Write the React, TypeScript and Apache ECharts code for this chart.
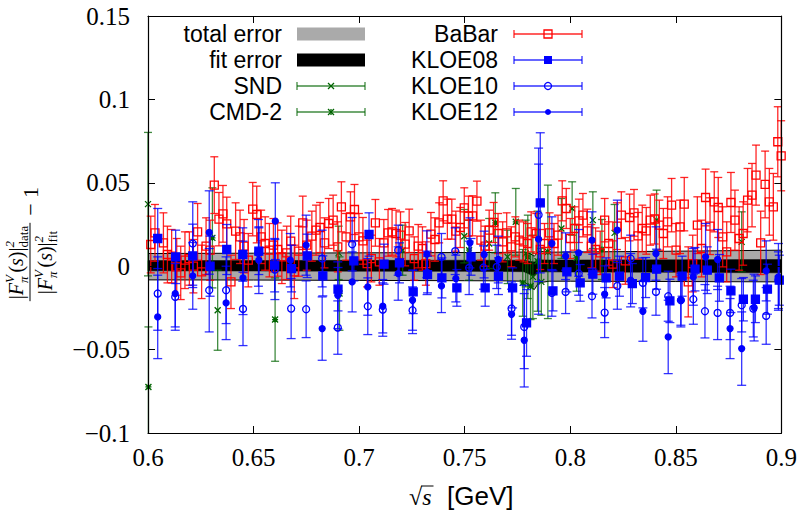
import React, { useEffect, useRef } from "react";
import * as echarts from "echarts";

// ---------- data: [sqrt(s) GeV, ratio-1, error] ----------
const BABAR: number[][] = [
  [0.6013,0.0130,0.017],[0.6033,0.0200,0.017],[0.6073,0.0140,0.018],[0.6092,0.0070,0.017],
  [0.6112,0.0060,0.016],[0.6136,-0.0004,0.017],[0.6155,-0.0040,0.016],[0.6175,0.0036,0.017],
  [0.6196,0.0046,0.016],[0.6215,0.0000,0.016],[0.6235,0.0206,0.017],[0.6254,-0.0034,0.016],
  [0.6275,0.0120,0.017],[0.6294,0.0096,0.018],[0.6314,0.0486,0.017],[0.6336,0.0282,0.016],
  [0.6355,0.0314,0.017],[0.6373,0.0254,0.016],[0.6393,-0.0094,0.016],[0.6415,0.0210,0.017],
  [0.6436,0.0176,0.016],[0.6455,0.0120,0.016],[0.6475,0.0036,0.016],[0.6496,0.0342,0.016],
  [0.6515,0.0310,0.017],[0.6536,0.0176,0.016],[0.6555,0.0136,0.016],[0.6575,0.0096,0.016],
  [0.6594,0.0126,0.016],[0.6614,0.0100,0.016],[0.6634,0.0056,0.016],[0.6657,0.0080,0.016],
  [0.6676,0.0150,0.015],[0.6693,-0.0034,0.016],[0.6714,0.0090,0.015],[0.6733,0.0260,0.016],
  [0.6752,0.0126,0.015],[0.6776,0.0180,0.015],[0.6796,0.0216,0.015],[0.6815,0.0232,0.015],
  [0.6836,0.0140,0.015],[0.6856,0.0256,0.015],[0.6877,0.0276,0.015],[0.6899,0.0116,0.015],
  [0.6916,0.0356,0.015],[0.6938,0.0176,0.014],[0.6959,0.0296,0.015],[0.6978,0.0340,0.015],
  [0.6999,0.0176,0.014],[0.7018,0.0152,0.014],[0.7038,0.0016,0.014],[0.7058,0.0046,0.014],
  [0.7077,0.0260,0.014],[0.7096,0.0026,0.014],[0.7117,0.0140,0.014],[0.7137,0.0200,0.014],
  [0.7156,0.0206,0.014],[0.7175,0.0196,0.014],[0.7196,0.0186,0.014],[0.7218,0.0132,0.013],
  [0.7237,0.0212,0.013],[0.7261,0.0046,0.013],[0.7280,0.0120,0.013],[0.7300,0.0106,0.013],
  [0.7316,0.0016,0.013],[0.7340,0.0192,0.013],[0.7359,0.0160,0.013],[0.7379,0.0260,0.012],
  [0.7398,0.0392,0.012],[0.7418,0.0282,0.012],[0.7439,0.0282,0.012],[0.7458,0.0210,0.012],
  [0.7479,0.0232,0.012],[0.7498,0.0350,0.012],[0.7518,0.0300,0.012],[0.7537,0.0302,0.012],
  [0.7558,0.0390,0.012],[0.7577,0.0156,0.012],[0.7597,0.0120,0.012],[0.7616,0.0216,0.012],
  [0.7637,0.0262,0.012],[0.7658,0.0196,0.012],[0.7680,0.0146,0.012],[0.7699,0.0200,0.012],
  [0.7721,0.0116,0.012],[0.7740,0.0176,0.012],[0.7758,0.0156,0.012],[0.7779,0.0146,0.012],
  [0.7798,0.0136,0.012],[0.7815,0.0206,0.012],[0.7839,0.0196,0.012],[0.7858,0.0100,0.012],
  [0.7878,0.0136,0.012],[0.7902,0.0200,0.012],[0.7923,0.0136,0.012],[0.7942,0.0186,0.012],
  [0.7962,0.0392,0.012],[0.7981,0.0346,0.012],[0.8000,0.0166,0.012],[0.8021,0.0226,0.013],
  [0.8041,0.0272,0.013],[0.8060,0.0306,0.013],[0.8081,0.0212,0.013],[0.8100,0.0120,0.013],
  [0.8120,0.0100,0.013],[0.8142,0.0080,0.013],[0.8163,0.0276,0.013],[0.8182,0.0136,0.013],
  [0.8202,0.0012,0.014],[0.8221,0.0240,0.014],[0.8242,0.0306,0.014],[0.8261,0.0032,0.014],
  [0.8281,0.0292,0.014],[0.8302,0.0320,0.014],[0.8321,0.0182,0.014],[0.8341,0.0226,0.014],
  [0.8360,0.0212,0.014],[0.8379,0.0276,0.015],[0.8400,0.0283,0.015],[0.8422,0.0246,0.015],
  [0.8441,0.0196,0.015],[0.8461,0.0266,0.015],[0.8480,0.0366,0.016],[0.8501,0.0096,0.016],
  [0.8520,0.0236,0.016],[0.8540,0.0372,0.016],[0.8559,-0.0094,0.021],[0.8580,0.0016,0.017],
  [0.8602,0.0246,0.017],[0.8622,0.0106,0.017],[0.8641,0.0412,0.017],[0.8662,0.0240,0.017],
  [0.8682,0.0386,0.018],[0.8701,0.0352,0.018],[0.8722,0.0176,0.018],[0.8741,0.0086,0.018],
  [0.8761,0.0382,0.018],[0.8780,0.0276,0.018],[0.8800,0.0166,0.019],[0.8819,0.0196,0.019],
  [0.8840,0.0396,0.019],[0.8861,0.0426,0.019],[0.8880,0.0546,0.018],[0.8902,0.0140,0.019],
  [0.8923,0.0490,0.020],[0.8943,0.0386,0.020],[0.8962,0.0356,0.020],[0.8983,0.0746,0.021],
  [0.8999,0.0662,0.021],
];

const KLOE08: number[][] = [
  [0.6046,0.0166,0.018],[0.6131,0.0056,0.016],[0.6212,0.0062,0.019],[0.6294,0.0000,0.018],
  [0.6373,0.0100,0.015],[0.6449,0.0070,0.016],[0.6525,0.0090,0.014],[0.6600,0.0006,0.016],
  [0.6680,-0.0014,0.014],[0.6754,0.0062,0.013],[0.6828,-0.0058,0.012],[0.6900,-0.0138,0.013],
  [0.6975,0.0032,0.012],[0.7047,0.0190,0.013],[0.7118,0.0012,0.012],[0.7191,0.0020,0.012],
  [0.7256,-0.0154,0.013],[0.7324,-0.0050,0.011],[0.7392,-0.0070,0.012],[0.7463,-0.0130,0.011],
  [0.7530,0.0056,0.011],[0.7597,-0.0130,0.011],[0.7660,-0.0060,0.011],[0.7727,-0.0130,0.012],
  [0.7793,-0.0340,0.020],[0.7858,0.0380,0.042],[0.7918,-0.0148,0.012],[0.7984,-0.0034,0.012],
  [0.8047,-0.0100,0.011],[0.8107,-0.0048,0.012],[0.8170,-0.0070,0.012],[0.8233,-0.0060,0.012],
  [0.8294,-0.0104,0.012],[0.8357,-0.0068,0.012],[0.8409,-0.0018,0.012],[0.8472,-0.0208,0.013],
  [0.8530,-0.0060,0.012],[0.8591,-0.0018,0.013],[0.8649,-0.0024,0.014],[0.8706,-0.0070,0.014],
  [0.8761,-0.0148,0.013],[0.8820,-0.0198,0.013],[0.8877,-0.0198,0.014],[0.8934,-0.0138,0.015],
  [0.8990,-0.0084,0.015],
];

const KLOE10: number[][] = [
  [0.6046,-0.0164,0.022],[0.6129,-0.0184,0.020],[0.6212,0.0136,0.025],[0.6290,-0.0144,0.025],
  [0.6370,-0.0144,0.020],[0.6450,-0.0256,0.022],[0.6523,0.0080,0.020],[0.6601,-0.0020,0.018],
  [0.6678,-0.0254,0.018],[0.6749,-0.0258,0.017],[0.6825,0.0046,0.017],[0.6899,-0.0368,0.016],
  [0.6967,0.0132,0.016],[0.7041,-0.0240,0.017],[0.7112,-0.0260,0.016],[0.7185,0.0096,0.015],
  [0.7253,-0.0264,0.014],[0.7322,-0.0040,0.013],[0.7390,0.0056,0.014],[0.7455,0.0090,0.014],
  [0.7521,-0.0010,0.016],[0.7589,-0.0008,0.013],[0.7652,-0.0004,0.013],[0.7722,-0.0254,0.016],
  [0.7782,-0.0364,0.025],[0.7850,0.0308,0.040],[0.7913,-0.0160,0.014],[0.7978,-0.0154,0.013],
  [0.8040,-0.0044,0.013],[0.8103,-0.0180,0.013],[0.8163,-0.0278,0.015],[0.8223,-0.0118,0.014],
  [0.8286,0.0046,0.014],[0.8344,-0.0100,0.015],[0.8406,-0.0154,0.014],[0.8464,-0.0180,0.015],
  [0.8524,-0.0204,0.015],[0.8583,-0.0198,0.015],[0.8638,-0.0270,0.016],[0.8698,-0.0280,0.016],
  [0.8757,-0.0280,0.016],[0.8812,-0.0234,0.016],[0.8867,-0.0254,0.017],[0.8928,-0.0298,0.017],
  [0.8986,-0.0084,0.017],
];

const KLOE12: number[][] = [
  [0.6046,-0.0304,0.025],[0.6129,-0.0164,0.020],[0.6212,-0.0058,0.020],[0.6290,0.0202,0.025],
  [0.6370,-0.0220,0.022],[0.6450,-0.0070,0.022],[0.6525,0.0036,0.020],[0.6603,0.0270,0.023],
  [0.6674,0.0036,0.016],[0.6749,0.0126,0.018],[0.6825,-0.0374,0.019],[0.6899,-0.0174,0.020],
  [0.6967,-0.0094,0.018],[0.7041,-0.0124,0.017],[0.7112,-0.0240,0.016],[0.7185,-0.0044,0.016],
  [0.7253,-0.0204,0.018],[0.7321,0.0072,0.014],[0.7390,-0.0118,0.016],[0.7458,-0.0074,0.014],
  [0.7525,0.0140,0.015],[0.7592,0.0070,0.014],[0.7659,0.0040,0.014],[0.7722,-0.0288,0.015],
  [0.7782,-0.0444,0.028],[0.7850,0.0162,0.045],[0.7913,0.0136,0.016],[0.7978,0.0060,0.014],
  [0.8040,0.0080,0.014],[0.8103,0.0156,0.017],[0.8163,-0.0168,0.017],[0.8223,0.0216,0.018],
  [0.8286,-0.0084,0.016],[0.8344,-0.0270,0.018],[0.8406,0.0076,0.016],[0.8464,-0.0424,0.022],
  [0.8524,-0.0204,0.016],[0.8583,-0.0064,0.017],[0.8641,0.0056,0.020],[0.8698,0.0040,0.018],
  [0.8757,-0.0374,0.018],[0.8812,-0.0494,0.022],[0.8871,-0.0248,0.020],[0.8928,-0.0028,0.018],
  [0.8986,-0.0064,0.020],
];

const SND: number[][] = [
  [0.6000,0.0372,0.043],[0.6330,-0.0264,0.024],[0.6903,0.0080,0.016],[0.7206,0.0096,0.015],
  [0.7498,0.0180,0.016],[0.7616,0.0136,0.015],[0.7703,0.0056,0.016],[0.7789,0.0076,0.020],
  [0.7823,-0.0064,0.025],[0.7863,-0.0094,0.020],[0.7958,0.0226,0.018],[0.8009,0.0346,0.016],
  [0.8107,0.0276,0.017],[0.8210,0.0200,0.017],[0.8409,0.0276,0.018],[0.8812,0.0146,0.018],
];

const CMD2: number[][] = [
  [0.6002,-0.0724,0.036],[0.6305,0.0170,0.030],[0.6602,-0.0320,0.025],[0.6907,-0.0164,0.022],
  [0.7521,0.0096,0.018],[0.7645,0.0260,0.018],[0.7742,0.0266,0.020],[0.7775,-0.0100,0.020],
  [0.7799,0.0056,0.025],[0.7812,-0.0120,0.020],[0.7845,0.0030,0.030],[0.7894,0.0086,0.040],
  [0.8030,0.0050,0.020],[0.8150,0.0100,0.018],
];

// error bands of the fit
const BAND_X = [0.6, 0.65, 0.7, 0.75, 0.77, 0.778, 0.781, 0.783, 0.785, 0.79, 0.8, 0.85, 0.9];
const TOTAL_HI = [0.0076, 0.0078, 0.008, 0.0082, 0.0083, 0.0085, 0.0075, 0.006, 0.009, 0.0084, 0.0085, 0.009, 0.0096];
const TOTAL_LO = [-0.0082, -0.0083, -0.0085, -0.0087, -0.0088, -0.009, -0.0125, -0.014, -0.01, -0.009, -0.009, -0.0092, -0.0094];
const FIT_HI = [0.0034, 0.0034, 0.0035, 0.0036, 0.0036, 0.0036, 0.003, 0.0025, 0.0038, 0.0037, 0.0037, 0.0038, 0.004];
const FIT_LO = [-0.0028, -0.0029, -0.003, -0.0031, -0.0032, -0.0033, -0.005, -0.006, -0.0035, -0.0034, -0.0035, -0.0037, -0.004];

const X_MIN = 0.6, X_MAX = 0.9, X_STEP = 0.05;
const Y_MIN = -0.1, Y_MAX = 0.15, Y_STEP = 0.05;

const LEGEND_LEFT = ["total error", "fit error", "SND", "CMD-2"];
const LEGEND_RIGHT = ["BaBar", "KLOE08", "KLOE10", "KLOE12"];

const RED = "rgba(255,0,0,0.85)";
const BLUE = "rgba(0,0,255,0.8)";
const GREEN = "rgba(0,100,0,0.75)";
const SERIF = '"Liberation Serif", "DejaVu Serif", serif';
const SANS = '"Liberation Sans", Arial, sans-serif';

const XPATH = "path://M0,0L10,10M10,0L0,10";
const STARPATH = "path://M0,0L10,10M10,0L0,10M0,5L10,5M5,0L5,10";

function errorBars(name: string, data: number[][], color: string, cap: number, z: number) {
  return {
    type: "custom",
    name,
    z,
    silent: true,
    data,
    encode: { x: 0, y: 1 },
    renderItem: (params: any, api: any) => {
      const x = api.value(0), y = api.value(1), e = api.value(2);
      const top = api.coord([x, y + e]);
      const bot = api.coord([x, y - e]);
      const cs = params.coordSys;
      const y0 = cs.y, y1 = cs.y + cs.height;
      const px = top[0];
      const yt = Math.max(top[1], y0), yb = Math.min(bot[1], y1);
      const st = { stroke: color, lineWidth: 1.3, fill: null };
      const children: any[] = [];
      if (yb > yt) children.push({ type: "line", shape: { x1: px, y1: yt, x2: px, y2: yb }, style: st });
      if (top[1] >= y0) children.push({ type: "line", shape: { x1: px - cap, y1: top[1], x2: px + cap, y2: top[1] }, style: st });
      if (bot[1] <= y1) children.push({ type: "line", shape: { x1: px - cap, y1: bot[1], x2: px + cap, y2: bot[1] }, style: st });
      return { type: "group", children };
    },
  };
}

function markers(name: string, data: number[][], symbol: string, size: number, fill: string, stroke: string, z: number) {
  return {
    type: "scatter",
    name,
    z,
    silent: true,
    clip: true,
    data: data.map((d) => [d[0], d[1]]),
    symbol,
    symbolSize: size,
    itemStyle: { color: fill, borderColor: stroke, borderWidth: 1.3, opacity: 1 },
    emphasis: { disabled: true },
  };
}

function bandSeries() {
  return {
    type: "custom",
    name: "bands",
    z: 1,
    silent: true,
    data: [[0.75, 0]],
    encode: { x: 0, y: 1 },
    renderItem: (_params: any, api: any) => {
      const poly = (hi: number[], lo: number[]) => {
        const up = BAND_X.map((x, i) => api.coord([x, hi[i]]));
        const dn = BAND_X.map((x, i) => api.coord([x, lo[i]]));
        return { up, dn, all: up.concat(dn.slice().reverse()) };
      };
      const t = poly(TOTAL_HI, TOTAL_LO);
      const f = poly(FIT_HI, FIT_LO);
      return {
        type: "group",
        children: [
          { type: "polygon", shape: { points: t.all }, style: { fill: "#aaaaaa", stroke: null } },
          { type: "polyline", shape: { points: t.up }, style: { stroke: "#000", lineWidth: 1, fill: null } },
          { type: "polyline", shape: { points: t.dn }, style: { stroke: "#000", lineWidth: 1, fill: null } },
          { type: "polygon", shape: { points: f.all }, style: { fill: "#000", stroke: "#000", lineWidth: 0.5 } },
        ],
      };
    },
  };
}

let measureCtx: CanvasRenderingContext2D | null = null;
function textWidth(t: string, size: number, italic: boolean): number {
  if (!measureCtx) measureCtx = document.createElement("canvas").getContext("2d");
  if (!measureCtx) return t.length * size * 0.5;
  measureCtx.font = `${italic ? "italic " : ""}${size}px ${SERIF}`;
  return measureCtx.measureText(t).width;
}

type Tok = { t?: string; it?: boolean; sup?: string; sub?: string };
const MAIN = 20, SCRIPT = 13;

function rowWidth(toks: Tok[]): number {
  let w = 0;
  for (const k of toks) {
    if (k.t !== undefined) w += textWidth(k.t, MAIN, !!k.it);
    else w += Math.max(textWidth(k.sup || "", SCRIPT, false), textWidth(k.sub || "", SCRIPT, false)) + 1;
  }
  return w;
}

function mathRow(toks: Tok[], cx: number, cy: number): any[] {
  const out: any[] = [];
  let x = cx - rowWidth(toks) / 2;
  const base = { fill: "#000", align: "left", verticalAlign: "middle", fontFamily: SERIF, lineHeight: 10 };
  for (const k of toks) {
    if (k.t !== undefined) {
      out.push({ type: "text", x, y: cy, style: { ...base, text: k.t, fontSize: MAIN, lineHeight: 16, fontStyle: k.it ? "italic" : "normal" } });
      x += textWidth(k.t, MAIN, !!k.it);
    } else {
      if (k.sup) out.push({ type: "text", x, y: cy - 7, style: { ...base, text: k.sup, fontSize: SCRIPT, fontStyle: "italic" } });
      if (k.sub) out.push({ type: "text", x, y: cy + 7, style: { ...base, text: k.sub, fontSize: SCRIPT, fontStyle: k.sub === "π" ? "italic" : "normal" } });
      x += Math.max(textWidth(k.sup || "", SCRIPT, false), textWidth(k.sub || "", SCRIPT, false)) + 1;
    }
  }
  return out;
}

function yTitle(): any {
  const num: Tok[] = [{ t: "|" }, { t: "F", it: true }, { sup: "V", sub: "π" }, { t: "(" }, { t: "s", it: true }, { t: ")|" }, { sup: "2", sub: "data" }];
  const den: Tok[] = [{ t: "|" }, { t: "F", it: true }, { sup: "V", sub: "π" }, { t: "(" }, { t: "s", it: true }, { t: ")|" }, { sup: "2", sub: "fit" }];
  const w = Math.max(rowWidth(num), rowWidth(den)) + 4;
  const children = [
    ...mathRow(num, 0, -14),
    ...mathRow(den, 0, 15),
    { type: "line", shape: { x1: -w / 2, y1: 0, x2: w / 2, y2: 0 }, style: { stroke: "#000", lineWidth: 1 } },
    { type: "text", x: w / 2 + 7, y: 0, style: { text: "− 1", fontSize: 22, fontFamily: SERIF, fill: "#000", align: "left", verticalAlign: "middle" } },
  ];
  return { type: "group", x: 30, y: 262, rotation: Math.PI / 2, children };
}

function xTitle(): any[] {
  const y = 497;
  const sqrtW = textWidth("√", 24, false);
  const sW = textWidth("s", 24, true);
  const x0 = 409;
  return [
    { type: "text", x: x0, y, style: { text: "√", fontSize: 24, fontFamily: SERIF, fill: "#000", align: "left", verticalAlign: "middle" } },
    { type: "text", x: x0 + sqrtW, y, style: { text: "s", fontSize: 24, fontFamily: SERIF, fontStyle: "italic", fill: "#000", align: "left", verticalAlign: "middle" } },
    { type: "line", shape: { x1: x0 + sqrtW - 1, y1: 486, x2: x0 + sqrtW + sW + 2, y2: 486 }, style: { stroke: "#000", lineWidth: 1 } },
    { type: "text", x: 447, y: y - 1, style: { text: "[GeV]", fontSize: 26, fontFamily: SANS, fill: "#000", align: "left", verticalAlign: "middle" } },
  ];
}

function legendSample(x1: number, x2: number, y: number, color: string, marker: any): any[] {
  const st = { stroke: color, lineWidth: 1.3 };
  return [
    { type: "line", shape: { x1, y1: y, x2, y2: y }, style: st },
    { type: "line", shape: { x1, y1: y - 4, x2: x1, y2: y + 4 }, style: st },
    { type: "line", shape: { x1: x2, y1: y - 4, x2, y2: y + 4 }, style: st },
    marker,
  ];
}

function legend(): any[] {
  const rows = [34, 60, 86, 112];
  const out: any[] = [];
  const textStyle = (t: string) => ({ text: t, fontSize: 23, lineHeight: 21, fontFamily: SANS, fill: "#000", align: "right", verticalAlign: "middle" });
  LEGEND_LEFT.forEach((t, i) => out.push({ type: "text", x: 282, y: rows[i], style: textStyle(t) }));
  LEGEND_RIGHT.forEach((t, i) => out.push({ type: "text", x: 498, y: rows[i], style: textStyle(t) }));
  // column 1 samples
  out.push({ type: "rect", shape: { x: 297, y: rows[0] - 6.5, width: 68, height: 13 }, style: { fill: "#aaaaaa" } });
  out.push({ type: "rect", shape: { x: 297, y: rows[1] - 6.5, width: 68, height: 13 }, style: { fill: "#000" } });
  const cx1 = 331, cx2 = 548;
  const cross = (cx: number, cy: number, s: number, star: boolean, color: string) => {
    const el: any[] = [
      { type: "line", shape: { x1: cx - s, y1: cy - s, x2: cx + s, y2: cy + s }, style: { stroke: color, lineWidth: 1.3 } },
      { type: "line", shape: { x1: cx - s, y1: cy + s, x2: cx + s, y2: cy - s }, style: { stroke: color, lineWidth: 1.3 } },
    ];
    if (star) el.push({ type: "line", shape: { x1: cx, y1: cy - s, x2: cx, y2: cy + s }, style: { stroke: color, lineWidth: 1.3 } });
    return { type: "group", children: el };
  };
  out.push(...legendSample(297, 365, rows[2], GREEN, cross(cx1, rows[2], 3, false, "#006400")));
  out.push(...legendSample(297, 365, rows[3], GREEN, cross(cx1, rows[3], 3, true, "#006400")));
  // column 2 samples
  out.push(...legendSample(514, 582, rows[0], RED, { type: "rect", shape: { x: cx2 - 4, y: rows[0] - 4, width: 8, height: 8 }, style: { fill: "none", stroke: "#ff0000", lineWidth: 1.3 } }));
  out.push(...legendSample(514, 582, rows[1], BLUE, { type: "rect", shape: { x: cx2 - 4, y: rows[1] - 4, width: 8, height: 8 }, style: { fill: "#0000ff" } }));
  out.push(...legendSample(514, 582, rows[2], BLUE, { type: "circle", shape: { cx: cx2, cy: rows[2], r: 3.5 }, style: { fill: "none", stroke: "#0000ff", lineWidth: 1.3 } }));
  out.push(...legendSample(514, 582, rows[3], BLUE, { type: "circle", shape: { cx: cx2, cy: rows[3], r: 3 }, style: { fill: "#0000ff" } }));
  return out;
}

const fmtX = (v: number) => String(parseFloat(v.toFixed(2)));
const fmtY = (v: number) => {
  const s = String(parseFloat(v.toFixed(2)));
  return s === "-0" ? "0" : s.replace("-", "−");
};

export default function App() {
  const ref = useRef<HTMLDivElement>(null);
  useEffect(() => {
    if (!ref.current) return;
    const chart = echarts.init(ref.current, undefined, { renderer: "svg" });
    const axisCommon = {
      type: "value",
      axisLine: { show: true, onZero: false, lineStyle: { color: "#000", width: 1.2 } },
      axisTick: { show: true, inside: true, length: 7, lineStyle: { color: "#000", width: 1 } },
      splitLine: { show: false },
      z: 50,
    };
    chart.setOption({
      animation: false,
      backgroundColor: "#fff",
      grid: { left: 148, right: 18, top: 16, bottom: 78, containLabel: false },
      xAxis: [
        { ...axisCommon, position: "bottom", min: X_MIN, max: X_MAX, interval: X_STEP,
          axisLabel: { color: "#000", fontFamily: SERIF, fontSize: 25, margin: 12, formatter: fmtX } },
        { ...axisCommon, position: "top", min: X_MIN, max: X_MAX, interval: X_STEP, axisLabel: { show: false } },
      ],
      yAxis: [
        { ...axisCommon, position: "left", min: Y_MIN, max: Y_MAX, interval: Y_STEP,
          axisLabel: { color: "#000", fontFamily: SERIF, fontSize: 25, margin: 18, formatter: fmtY } },
        { ...axisCommon, position: "right", min: Y_MIN, max: Y_MAX, interval: Y_STEP, axisLabel: { show: false } },
      ],
      series: [
        bandSeries(),
        errorBars("SND", SND, GREEN, 4, 2),
        markers("SND", SND, XPATH, 6, "transparent", "#006400", 3),
        errorBars("CMD-2", CMD2, GREEN, 4, 4),
        markers("CMD-2", CMD2, STARPATH, 6, "transparent", "#006400", 5),
        errorBars("BaBar", BABAR, RED, 4, 6),
        markers("BaBar", BABAR, "rect", 8, "transparent", "#ff0000", 7),
        errorBars("KLOE08", KLOE08, BLUE, 4.5, 8),
        markers("KLOE08", KLOE08, "rect", 8, "#0000ff", "#0000ff", 9),
        errorBars("KLOE10", KLOE10, BLUE, 4.5, 10),
        markers("KLOE10", KLOE10, "circle", 7, "transparent", "#0000ff", 11),
        errorBars("KLOE12", KLOE12, BLUE, 4.5, 12),
        markers("KLOE12", KLOE12, "circle", 6, "#0000ff", "#0000ff", 13),
      ],
      graphic: [yTitle(), ...xTitle(), ...legend()],
    });
    return () => chart.dispose();
  }, []);
  return <div ref={ref} style={{ position: "fixed", left: 0, top: 0, width: 800, height: 511 }} />;
}
